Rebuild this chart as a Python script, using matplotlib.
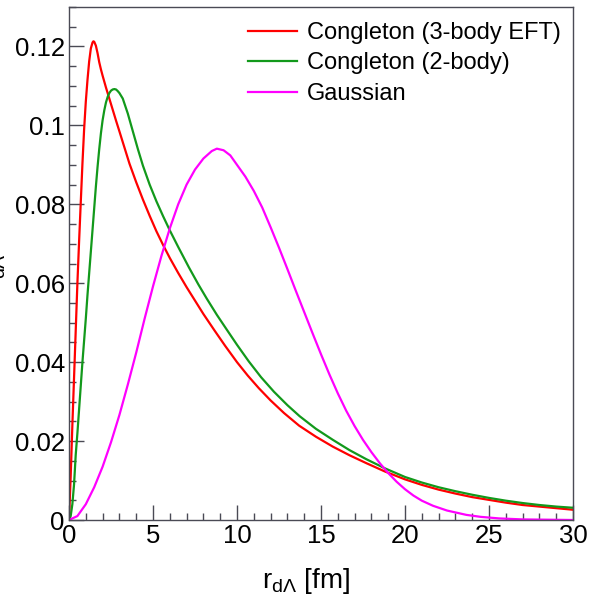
import matplotlib
matplotlib.use("Agg")
import matplotlib.pyplot as plt
from matplotlib.ticker import MultipleLocator, FuncFormatter

plt.rcParams['font.family'] = ['Liberation Sans', 'DejaVu Sans']
plt.rcParams['mathtext.fontset'] = 'custom'
plt.rcParams['mathtext.rm'] = 'Liberation Sans'
plt.rcParams['mathtext.it'] = 'Liberation Sans:italic'

# values
r_red = [0, 0.1, 0.2, 0.3, 0.4, 0.5, 0.6, 0.7, 0.8, 0.9, 1.0, 1.1, 1.2, 1.3, 1.4,
         1.45, 1.5, 1.6, 1.7, 1.8, 1.9, 2.0, 2.2, 2.4, 2.6, 2.8, 3.0, 3.3, 3.6, 4.0,
         4.4, 4.8, 5.2, 5.6, 6.0, 6.5, 7.0, 7.5, 8.0, 8.65, 9.3, 10.0, 10.64, 11.3,
         12.0, 12.8, 13.7, 14.7, 15.7, 16.7, 17.7, 18.8, 20.0, 21.0, 22.0, 23.0,
         24.0, 25.0, 26.0, 27.0, 28.0, 29.0, 30.0]
p_red = [0, 0.011, 0.024, 0.036, 0.048, 0.060, 0.0705, 0.0805, 0.0903, 0.099, 0.106,
         0.1115, 0.1162, 0.1195, 0.1210, 0.1213, 0.1212, 0.1202, 0.1183, 0.1160,
         0.1142, 0.1126, 0.1096, 0.1068, 0.1040, 0.1012, 0.0985, 0.0944, 0.0903,
         0.0856, 0.0812, 0.0771, 0.0732, 0.0697, 0.0664, 0.0626, 0.0590, 0.0556,
         0.0522, 0.0481, 0.0441, 0.0400, 0.0366, 0.0334, 0.0303, 0.0271, 0.0239,
         0.0211, 0.0186, 0.0164, 0.0144, 0.0123, 0.0103, 0.0089, 0.0077, 0.0067,
         0.0058, 0.0051, 0.0044, 0.0038, 0.0034, 0.0030, 0.0026]

r_green = [0, 0.1, 0.2, 0.3, 0.4, 0.5, 0.6, 0.7, 0.8, 0.9, 1.0, 1.1, 1.2, 1.3, 1.4,
           1.5, 1.6, 1.7, 1.8, 1.9, 2.0, 2.1, 2.2, 2.3, 2.4, 2.5, 2.6, 2.7, 2.8, 2.9,
           3.0, 3.2, 3.5, 3.8, 4.1, 4.4, 4.8, 5.2, 5.6, 6.0, 6.5, 7.14, 7.7, 8.2, 8.8,
           9.35, 10.0, 10.7, 11.43, 12.2, 13.0, 13.73, 14.7, 15.71, 16.7, 17.7, 18.8,
           20.0, 21.0, 22.0, 23.0, 24.0, 25.0, 26.0, 27.0, 28.0, 29.0, 30.0]
p_green = [0, 0.001, 0.004, 0.009, 0.0165, 0.022, 0.028, 0.034, 0.040, 0.0455, 0.051,
           0.057, 0.0625, 0.068, 0.0735, 0.079, 0.0845, 0.0895, 0.094, 0.098, 0.1013,
           0.1038, 0.1058, 0.1072, 0.1082, 0.1088, 0.1091, 0.1092, 0.1091, 0.1087,
           0.1082, 0.1068, 0.1030, 0.0985, 0.0940, 0.0898, 0.0850, 0.0808, 0.0770,
           0.0734, 0.0692, 0.0640, 0.0597, 0.0561, 0.0520, 0.0485, 0.0444, 0.0402,
           0.0362, 0.0325, 0.0291, 0.0263, 0.0231, 0.0203, 0.0177, 0.0154, 0.0131,
           0.0109, 0.0095, 0.0083, 0.0073, 0.0064, 0.0056, 0.0049, 0.0043, 0.0038,
           0.0034, 0.0031]

r_gaus = [0, 0.5, 1.0, 1.5, 2.0, 2.5, 3.0, 3.5, 4.0, 4.5, 5.0, 5.5, 6.0, 6.5, 7.0,
          7.5, 8.0, 8.5, 8.8, 9.2, 9.6, 10.0, 10.5, 11.0, 11.5, 12.0, 12.5, 13.0,
          13.5, 14.0, 14.5, 15.0, 15.5, 16.0, 16.5, 17.0, 17.5, 18.0, 18.5, 19.0,
          19.5, 20.0, 20.5, 21.0, 21.67, 22.5, 23.65, 24.5, 25.6, 27.0, 30.0]
p_gaus = [0, 0.0010, 0.0040, 0.0083, 0.0135, 0.0197, 0.0266, 0.0343, 0.0424, 0.0510,
          0.0592, 0.0669, 0.0739, 0.0800, 0.0850, 0.0888, 0.0916, 0.0935, 0.0941,
          0.0937, 0.0924, 0.0900, 0.0870, 0.0834, 0.0792, 0.0742, 0.0690, 0.0636,
          0.0581, 0.0527, 0.0473, 0.0420, 0.0369, 0.0321, 0.0277, 0.0238, 0.0203,
          0.0172, 0.0144, 0.0119, 0.0097, 0.0078, 0.0062, 0.0049, 0.0036, 0.0024,
          0.0013, 0.0008, 0.0004, 0.00015, 0.0]

labels = ["Congleton (3-body EFT)", "Congleton (2-body)", "Gaussian"]
colors = ["#ff0000", "#12991b", "#ff00ff"]

fig = plt.figure(figsize=(5.9, 5.99), dpi=100)
ax = fig.add_axes([69 / 590, 1 - 520 / 599, 504 / 590, 513 / 599])

ax.plot(r_red, p_red, color=colors[0], lw=1.6, label=labels[0])
ax.plot(r_green, p_green, color=colors[1], lw=1.6, label=labels[1])
ax.plot(r_gaus, p_gaus, color=colors[2], lw=1.6, label=labels[2])

ax.set_xlim(0, 30)
ax.set_ylim(0, 0.13)
ax.xaxis.set_major_locator(MultipleLocator(5))
ax.xaxis.set_minor_locator(MultipleLocator(1))
ax.yaxis.set_major_locator(MultipleLocator(0.02))
ax.yaxis.set_minor_locator(MultipleLocator(0.005))
ax.yaxis.set_major_formatter(FuncFormatter(lambda v, p: "%g" % round(v, 4)))
ax.tick_params(which='both', direction='in', top=False, right=False,
               color='#4a4a55', labelsize=18.5)
ax.tick_params(which='major', length=10.8, width=1)
ax.tick_params(which='minor', length=5, width=1)
ax.tick_params(axis='x', pad=3)
ax.tick_params(axis='y', pad=3)
for s in ax.spines.values():
    s.set_color('#4a4a55')
    s.set_linewidth(1)

ax.set_xlabel(r"r$_{\mathrm{d\Lambda}}$ [fm]", fontsize=20)
ax.xaxis.set_label_coords(0.47, -0.09)

# y title, mostly outside the canvas as in the reference
fig.text(8 / 590, 1 - 300 / 599, r"dN/dr$_{\mathrm{d\Lambda}}$", rotation=90,
         ha='right', va='center', fontsize=20)

ax.legend(loc='upper left', bbox_to_anchor=(248 / 590, 1 - 22 / 599),
          bbox_transform=fig.transFigure, frameon=False, fontsize=17,
          handlelength=2.08, handletextpad=0.42, labelspacing=0.36,
          borderpad=0, borderaxespad=0)

fig.savefig("out.png", dpi=100)
